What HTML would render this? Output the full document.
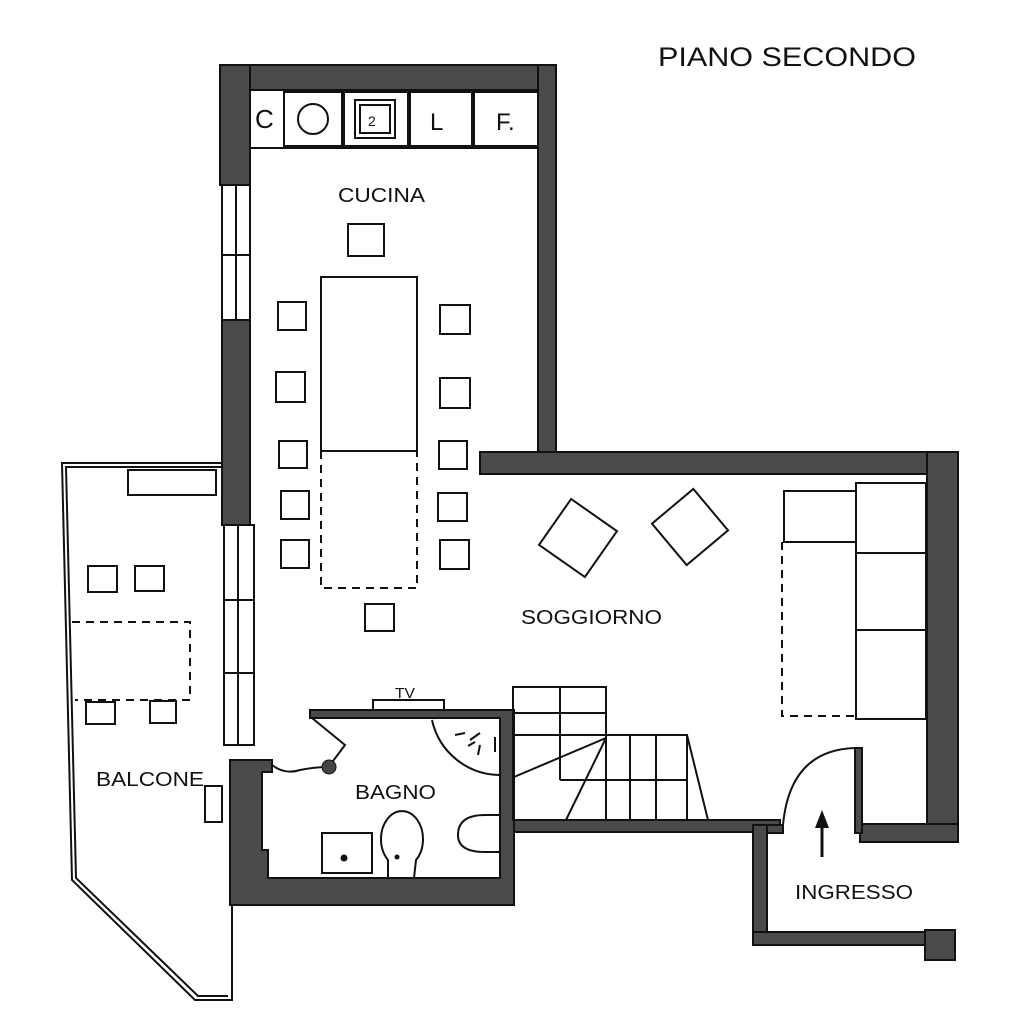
<!DOCTYPE html>
<html><head><meta charset="utf-8"><style>
html,body{margin:0;padding:0;background:#fff;}
svg{display:block}
text{font-family:"Liberation Sans",Arial,sans-serif;fill:#111}
</style></head><body>
<svg width="1024" height="1024" viewBox="0 0 1024 1024" xmlns="http://www.w3.org/2000/svg">
<g fill="#4a4a4a" stroke="#111" stroke-width="2">
<rect x="220" y="65" width="336" height="25"/>
<rect x="538" y="65" width="18" height="405"/>
<rect x="220" y="65" width="30" height="120"/>
<rect x="222" y="320" width="28" height="205"/>
<rect x="480" y="452" width="478" height="22"/>
<rect x="927" y="452" width="31" height="390"/>
<rect x="860" y="824" width="98" height="18"/>
<path d="M230 760 L272 760 L272 772 L262 772 L262 850 L268 850 L268 878 L500 878 L500 718 L310 718 L310 710 L514 710 L514 905 L230 905 Z"/>
<rect x="514" y="820" width="266" height="12"/>
<rect x="753" y="825" width="14" height="120"/>
<rect x="753" y="932" width="175" height="13"/>
<rect x="925" y="930" width="30" height="30"/>
<rect x="767" y="825" width="16" height="8"/>
<rect x="855" y="748" width="7" height="85"/>
</g>
<g fill="#fff" stroke="#111" stroke-width="2">
<rect x="222" y="185" width="28" height="135"/>
<rect x="224" y="525" width="30" height="220"/>
</g>
<g stroke="#111" stroke-width="2" fill="none">
<line x1="236" y1="185" x2="236" y2="320"/>
<line x1="222" y1="255" x2="250" y2="255"/>
<line x1="238" y1="525" x2="238" y2="745"/>
<line x1="224" y1="600" x2="254" y2="600"/>
<line x1="224" y1="673" x2="254" y2="673"/>
</g>
<g fill="#fff" stroke="#111" stroke-width="2">
<rect x="250" y="90" width="288" height="58"/>
<rect x="284" y="92" width="58" height="54"/>
<rect x="344" y="92" width="64" height="54"/>
<rect x="410" y="92" width="62" height="54"/>
<rect x="474" y="92" width="64" height="54"/>
<circle cx="313" cy="119" r="15"/>
<rect x="355" y="100" width="40" height="38"/>
<rect x="360" y="105" width="30" height="28"/>
</g>
<text x="255" y="128" font-size="26">C</text>
<text x="368" y="126" font-size="14">2</text>
<text x="430" y="130" font-size="24">L</text>
<text x="496" y="130" font-size="24">F.</text>
<g fill="#fff" stroke="#111" stroke-width="2">
<rect x="321" y="277" width="96" height="174"/>
<rect x="348" y="224" width="36" height="32"/>
<rect x="278" y="302" width="28" height="28"/>
<rect x="440" y="305" width="30" height="29"/>
<rect x="276" y="372" width="29" height="30"/>
<rect x="440" y="378" width="30" height="30"/>
<rect x="279" y="441" width="28" height="27"/>
<rect x="439" y="441" width="28" height="28"/>
<rect x="281" y="491" width="28" height="28"/>
<rect x="438" y="493" width="29" height="28"/>
<rect x="281" y="540" width="28" height="28"/>
<rect x="440" y="540" width="29" height="29"/>
<rect x="365" y="604" width="29" height="27"/>
</g>
<path d="M321 451 V588 H417 V451" fill="none" stroke="#111" stroke-width="2" stroke-dasharray="8,6"/>
<g fill="#fff" stroke="#111" stroke-width="2">
<rect x="550" y="510" width="56" height="56" transform="rotate(35 578 538)"/>
<rect x="663" y="500" width="54" height="54" transform="rotate(-40 690 527)"/>
<rect x="784" y="491" width="72" height="51"/>
<rect x="856" y="483" width="70" height="70"/>
<rect x="856" y="553" width="70" height="77"/>
<rect x="856" y="630" width="70" height="89"/>
<rect x="373" y="700" width="71" height="10"/>
</g>
<path d="M782 542 V716 H856" fill="none" stroke="#111" stroke-width="2" stroke-dasharray="8,6"/>
<g fill="none" stroke="#111" stroke-width="2">
<rect x="513" y="687" width="93" height="133"/>
<line x1="513" y1="713" x2="606" y2="713"/>
<line x1="513" y1="735" x2="606" y2="735"/>
<line x1="560" y1="687" x2="560" y2="780"/>
<path d="M606 735 H687 L708 820"/>
<line x1="560" y1="780" x2="687" y2="780"/>
<line x1="606" y1="735" x2="606" y2="820"/>
<line x1="630" y1="735" x2="630" y2="820"/>
<line x1="656" y1="735" x2="656" y2="820"/>
<line x1="687" y1="735" x2="687" y2="820"/>
<line x1="606" y1="738" x2="514" y2="777"/>
<line x1="606" y1="738" x2="566" y2="820"/>
</g>
<g fill="#fff" stroke="#111" stroke-width="2">
<path d="M432 720 A70 70 0 0 0 500 775" />
<rect x="322" y="833" width="50" height="40"/>
<path d="M388 878 L388 860 A21 28 0 1 1 416 860 L414 878 Z"/>
<path d="M500 815 L485 815 Q458 815 458 835 Q458 852 485 852 L500 852 Z"/>
<path d="M312 718 L345 745 L330 765" fill="none"/>
<path d="M272 765 Q285 775 300 770 Q315 767 328 767" fill="none"/>
</g>
<circle cx="329" cy="767" r="7" fill="#444" stroke="#111"/>
<circle cx="344" cy="858" r="3.5" fill="#111"/>
<circle cx="397" cy="857" r="2.5" fill="#111"/>
<g stroke="#111" stroke-width="2"><line x1="455" y1="735" x2="465" y2="733"/><line x1="470" y1="740" x2="480" y2="733"/><line x1="468" y1="746" x2="475" y2="742"/><line x1="480" y1="745" x2="478" y2="755"/><line x1="495" y1="737" x2="495" y2="752"/></g>
<g fill="none" stroke="#111" stroke-width="2">
<path d="M222 463 H62 L72 880 L195 1000 H232 V905"/>
<path d="M222 467 H66 L76 878 L198 996 H228"/>
<rect x="128" y="470" width="88" height="25" fill="#fff"/>
<rect x="88" y="566" width="29" height="26"/>
<rect x="135" y="566" width="29" height="25"/>
<rect x="86" y="702" width="29" height="22"/>
<rect x="150" y="701" width="26" height="22"/>
<rect x="205" y="786" width="17" height="36"/>
</g>
<path d="M72 622 H190 V700 H75" fill="none" stroke="#111" stroke-width="2" stroke-dasharray="8,6"/>
<path d="M855 748 Q790 750 783 825" fill="none" stroke="#111" stroke-width="2"/>
<line x1="822" y1="857" x2="822" y2="825" stroke="#111" stroke-width="3"/>
<polygon points="815,828 829,828 822,810" fill="#111"/>
<text x="658" y="66" font-size="27" textLength="258" lengthAdjust="spacingAndGlyphs">PIANO SECONDO</text>
<text x="338" y="202" font-size="20" textLength="87" lengthAdjust="spacingAndGlyphs">CUCINA</text>
<text x="521" y="624" font-size="20" textLength="141" lengthAdjust="spacingAndGlyphs">SOGGIORNO</text>
<text x="395" y="698" font-size="15" textLength="20" lengthAdjust="spacingAndGlyphs">TV</text>
<text x="355" y="799" font-size="20" textLength="81" lengthAdjust="spacingAndGlyphs">BAGNO</text>
<text x="96" y="786" font-size="20" textLength="108" lengthAdjust="spacingAndGlyphs">BALCONE</text>
<text x="795" y="899" font-size="20" textLength="118" lengthAdjust="spacingAndGlyphs">INGRESSO</text>
</svg>
</body></html>
